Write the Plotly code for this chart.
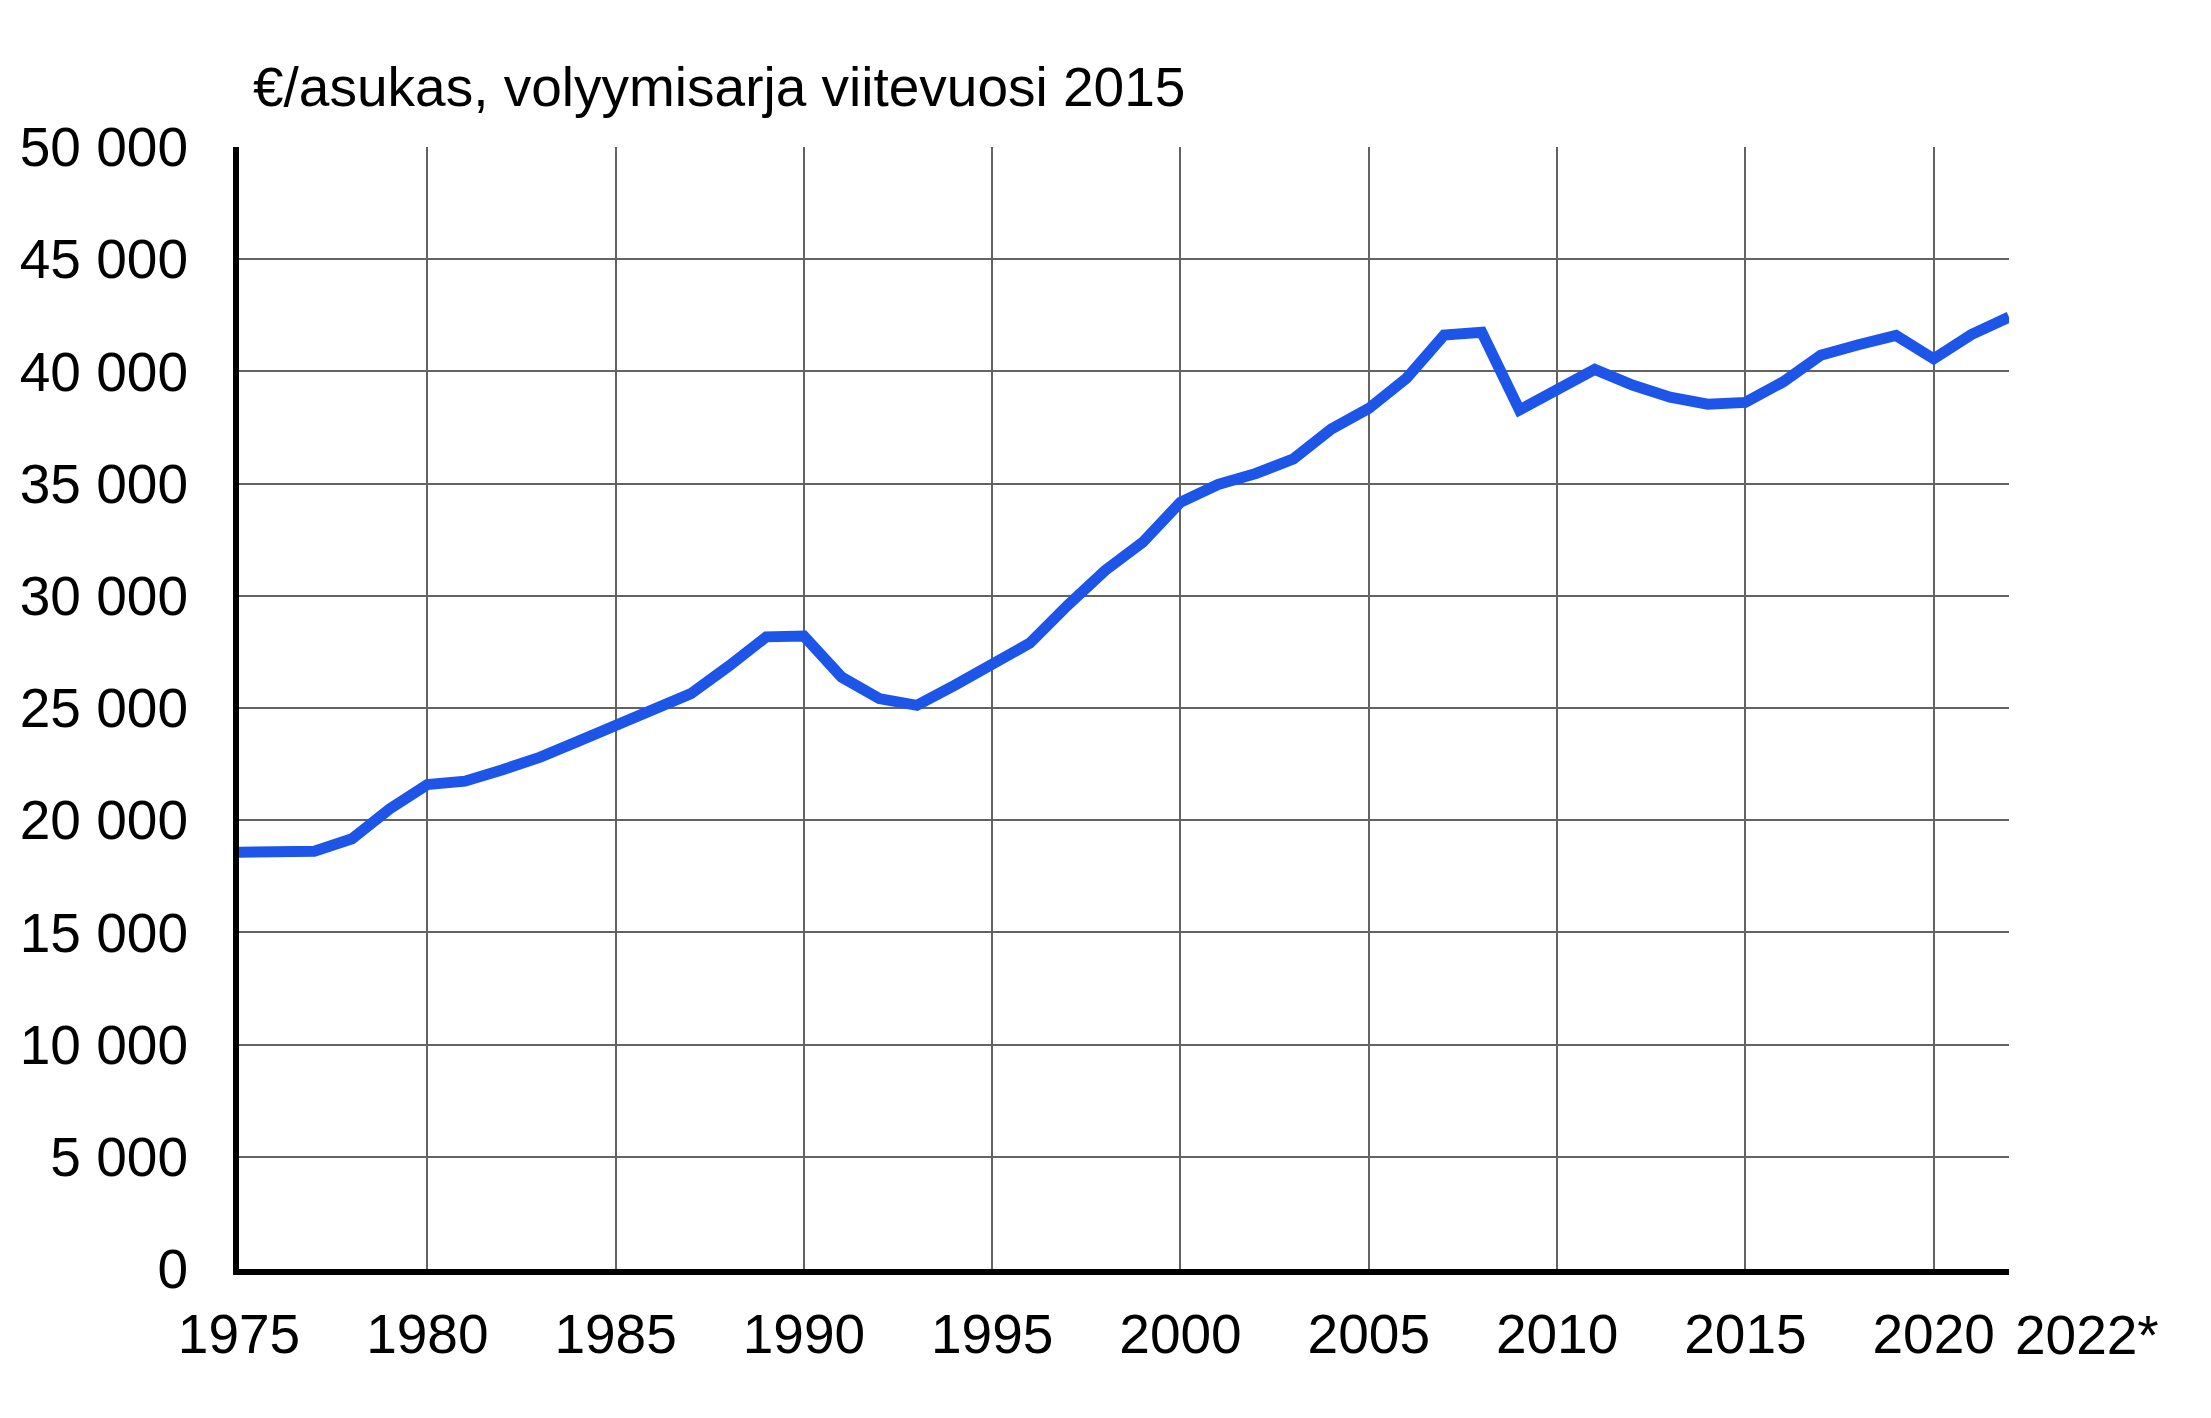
import plotly.graph_objects as go

# BKT per asukas, volyymisarja (viitevuosi 2015)
years = list(range(1975, 2023))
gdp_per_capita = [
    18570, 18610, 18620, 19170, 20500, 21590, 21740, 22250, 22810, 23510,
    24200, 24850, 25640, 26860, 28170, 28210, 26380, 25420, 25120, 26010,
    26980, 27890, 29570, 31130, 32390, 34170, 34960, 35450, 36100, 37430,
    38350, 39690, 41620, 41740, 38280, 39220, 40090, 39390, 38850, 38540,
    38620, 39530, 40720, 41190, 41600, 40560, 41640, 42420,
]
x_ticks = [1975, 1980, 1985, 1990, 1995, 2000, 2005, 2010, 2015, 2020]
x_ticktext = [str(y) for y in x_ticks]
last_label = '2022*'
y_title = '€/asukas, volyymisarja viitevuosi 2015'

FONT = 'Liberation Sans, Arial, sans-serif'
FS = 55

fig = go.Figure()
fig.add_trace(go.Scatter(x=years, y=gdp_per_capita, mode='lines',
                         line=dict(color='#1c55e8', width=11),
                         cliponaxis=False, showlegend=False))

fig.update_layout(
    width=2211, height=1418,
    margin=dict(l=217, r=210, t=139, b=157),
    paper_bgcolor='white', plot_bgcolor='white',
    font=dict(family=FONT, size=FS, color='black'),
    separators='. ',
    xaxis=dict(range=[1975, 2022], tickvals=x_ticks, ticktext=x_ticktext,
               showgrid=True, gridcolor='#636363', gridwidth=2,
               showline=True, linecolor='black', linewidth=6,
               ticks='', ticklabelstandoff=12, zeroline=False),
    yaxis=dict(range=[0, 50000], dtick=5000, tickformat=',d',
               showgrid=True, gridcolor='#636363', gridwidth=2,
               showline=True, linecolor='black', linewidth=6,
               ticks='', ticklabelstandoff=34, zeroline=False),
    annotations=[
        dict(text=y_title, xref='paper', yref='paper', x=0, y=1,
             xanchor='left', yanchor='middle', xshift=12, yshift=60,
             showarrow=False, font=dict(family=FONT, size=FS, color='black')),
        dict(text=last_label, xref='x', yref='paper', x=2022, y=0,
             xanchor='left', yanchor='middle', xshift=4, yshift=-66,
             showarrow=False, font=dict(family=FONT, size=FS, color='black')),
    ],
)

fig.write_html('out.html')
